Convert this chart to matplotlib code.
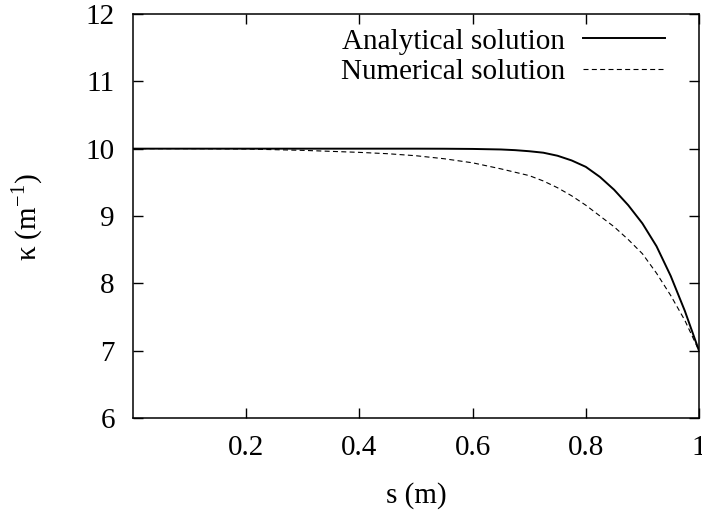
import matplotlib
matplotlib.use("Agg")
import matplotlib.pyplot as plt

# Analytical solution
s_analytical = [0.0, 0.1, 0.2, 0.3, 0.4, 0.5, 0.55, 0.6, 0.65, 0.675, 0.7, 0.725, 0.75,
                0.775, 0.8, 0.825, 0.85, 0.875, 0.9, 0.925, 0.95, 0.975, 1.0]
k_analytical = [10.0, 10.0, 10.0, 10.0, 10.0, 10.0, 9.999, 9.996, 9.988, 9.978, 9.962, 9.94, 9.895,
                9.825, 9.73, 9.58, 9.39, 9.16, 8.89, 8.55, 8.11, 7.59, 7.0]

# Numerical solution
s_numerical = [0.0, 0.1, 0.2, 0.3, 0.4, 0.45, 0.5, 0.55, 0.6, 0.65, 0.7, 0.725, 0.75,
               0.775, 0.8, 0.825, 0.85, 0.875, 0.9, 0.925, 0.95, 0.975, 1.0]
k_numerical = [10.0, 10.0, 9.995, 9.975, 9.945, 9.925, 9.895, 9.85, 9.79, 9.70, 9.60, 9.52, 9.42,
               9.30, 9.16, 9.00, 8.84, 8.65, 8.44, 8.15, 7.82, 7.45, 7.0]

x_ticks = [0.2, 0.4, 0.6, 0.8, 1.0]
x_tick_labels = ["0.2", "0.4", "0.6", "0.8", "1"]
y_ticks = [6, 7, 8, 9, 10, 11, 12]

plt.rcParams['font.family'] = ['Liberation Serif', 'DejaVu Serif']
plt.rcParams['mathtext.fontset'] = 'custom'
plt.rcParams['mathtext.rm'] = 'Liberation Serif'

FS = 21
W, H = 702, 514
fig = plt.figure(figsize=(W / 100, H / 100), dpi=100)
ax = fig.add_axes([133 / W, 1 - 418 / H, (699 - 133) / W, (418 - 14) / H])

ax.plot(s_analytical, k_analytical, color='black', lw=1.4, label='Analytical solution')
ax.plot(s_numerical, k_numerical, color='black', lw=0.8, dashes=(4.5, 3),
        label='Numerical solution')

ax.set_xlim(0, 1)
ax.set_ylim(6, 12)
ax.set_xticks(x_ticks)
ax.set_xticklabels(x_tick_labels)
ax.set_yticks(y_ticks)
ax.tick_params(direction='in', length=7, width=1, labelsize=FS,
               top=True, right=True)
ax.tick_params(axis='x', pad=12)
ax.tick_params(axis='y', pad=13)
for sp in ax.spines.values():
    sp.set_linewidth(1.1)

fig.text(416 / W, 1 - 496 / H, 's (m)', fontsize=FS, ha='center', va='center')
fig.text(27 / W, 1 - 217 / H, r'κ (m$^{-1}$)', fontsize=FS, ha='center', va='center',
         rotation=90)

leg = ax.legend(loc='upper right', frameon=False, markerfirst=False, fontsize=FS,
                handlelength=2.8, handletextpad=0.62, labelspacing=0.15,
                borderpad=0.0, borderaxespad=0.0, bbox_to_anchor=(0.94, 0.965))

fig.savefig('out.png', dpi=100)
